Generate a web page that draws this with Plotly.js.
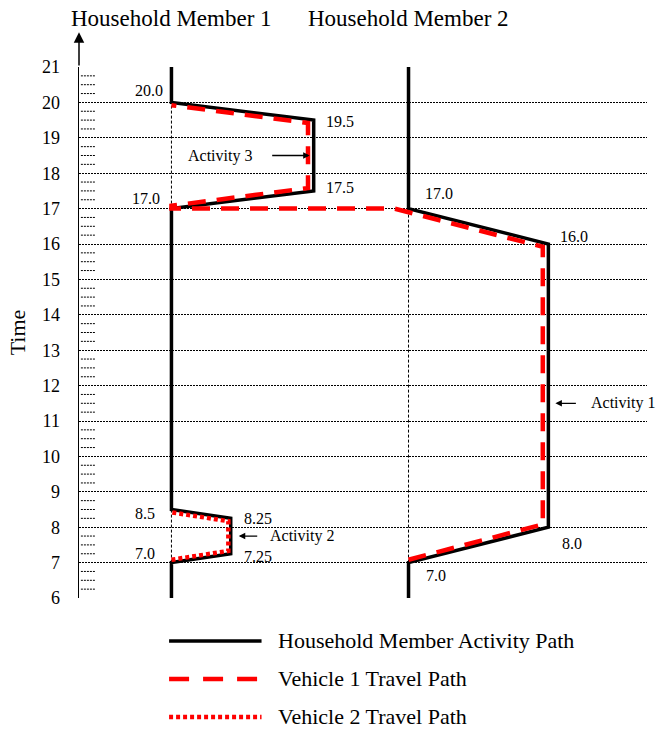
<!DOCTYPE html>
<html>
<head>
<meta charset="utf-8">
<script src="https://cdn.plot.ly/plotly-3.0.1.min.js"></script>
<style>html,body{margin:0;padding:0;background:#fff;}#chart{width:657px;height:734px;}</style>
</head>
<body>
<div id="chart"></div>
<script>
// ---------------- DATA ----------------
const memberNames = ["Household Member 1", "Household Member 2"];
const memberLanes = [1, 2];
const timeTicks = [6, 7, 8, 9, 10, 11, 12, 13, 14, 15, 16, 17, 18, 19, 20, 21];
const activityNames = ["Activity 1", "Activity 2", "Activity 3"];
const activityMember = [2, 1, 1];          // lane of the member doing it
const activityDepart = [7.0, 7.0, 17.0];
const activityStart  = [8.0, 7.25, 17.5];
const activityEnd    = [16.0, 8.25, 19.5];
const activityReturn = [17.0, 8.5, 20.0];
const vehicleNames = ["Vehicle 1 Travel Path", "Vehicle 2 Travel Path"];
const vehicleActivities = [[0, 2], [1]];
const legendNames = ["Household Member Activity Path", "Vehicle 1 Travel Path", "Vehicle 2 Travel Path"];

// ---------------- STYLE / LAYOUT CONSTANTS ----------------
const FONT = "Liberation Serif, Times New Roman, serif";
const X_RANGE = [0.61, 3.006];
const ACT_REACH = [0.59, 0.25, 0.6];        // horizontal extent of each activity box
const ACT_ARROW_T = [11.5, 7.75, 18.5];     // where the activity pointer sits
const INSET_X = 0.04;                       // vehicle path inset (fraction of reach)
const INSET_T = 0.08;                       // vehicle path inset in time
const RED = "#ff0000";

const tMin = timeTicks[0], tMax = timeTicks[timeTicks.length - 1];
const traces = [];

// minor quarter-hour dotted ticks near the axis
(function () {
  const xs = [], ys = [];
  for (let i = 0; i < timeTicks.length - 1; i++) {
    for (let q = 1; q < 4; q++) {
      const t = timeTicks[i] + q / 4;
      xs.push(X_RANGE[0] + 0.008, X_RANGE[0] + 0.068, null);
      ys.push(t, t, null);
    }
  }
  traces.push({x: xs, y: ys, mode: "lines", showlegend: false, hoverinfo: "skip",
    line: {color: "#000", width: 1, dash: "2px,1px"}});
})();

// thin dashed lines while the member is away
activityNames.forEach((n, i) => {
  traces.push({x: [activityMember[i], activityMember[i]], y: [activityDepart[i], activityReturn[i]],
    mode: "lines", showlegend: false, hoverinfo: "skip",
    line: {color: "#000", width: 1, dash: "3px,2px"}});
});

// household member activity paths
memberLanes.forEach((lane, m) => {
  const acts = activityNames.map((n, i) => i).filter(i => activityMember[i] === lane)
    .sort((a, b) => activityDepart[a] - activityDepart[b]);
  const xs = [lane], ys = [tMin];
  acts.forEach(i => {
    xs.push(lane, lane + ACT_REACH[i], lane + ACT_REACH[i], lane);
    ys.push(activityDepart[i], activityStart[i], activityEnd[i], activityReturn[i]);
  });
  xs.push(lane); ys.push(tMax);
  traces.push({x: xs, y: ys, mode: "lines", name: legendNames[0], showlegend: false,
    line: {color: "#000", width: 3.5}});
});

// vehicle travel paths
vehicleActivities.forEach((acts, v) => {
  const xs = [], ys = [];
  acts.forEach((i, k) => {
    const lane = activityMember[i];
    if (k > 0) {
      const p = acts[k - 1];
      if (activityMember[p] !== lane) {
        xs.push(activityMember[p] - 0.06, lane); ys.push(activityReturn[p], activityDepart[i]);
      }
    }
    const cx = lane + ACT_REACH[i] * (1 - INSET_X);
    xs.push(lane, cx, cx, lane);
    ys.push(activityDepart[i] + INSET_T, activityStart[i] + INSET_T,
            activityEnd[i] - INSET_T, activityReturn[i] - INSET_T);
  });
  traces.push({x: xs, y: ys, mode: "lines", name: vehicleNames[v], showlegend: false,
    line: v === 0 ? {color: RED, width: 4.5, dash: "18px,11px"} : {color: RED, width: 4.5, dash: "4px,3px"}});
});

// legend (drawn on its own small axis below the chart)
const legendStyles = [
  {color: "#000", width: 3.5},
  {color: RED, width: 4.5, dash: "20px,14px"},
  {color: RED, width: 4.5, dash: "4px,3px"}
];
legendNames.forEach((n, i) => {
  const row = legendNames.length - i;
  traces.push({x: [0.99, 1.38], y: [row, row], xaxis: "x", yaxis: "y2", mode: "lines",
    showlegend: false, hoverinfo: "skip", line: legendStyles[i]});
});

// ---------------- ANNOTATIONS ----------------
const ann = [];
const fmt = t => (Math.round(t * 2) === t * 2 ? t.toFixed(1) : t.toFixed(2));
const lab = (x, y, text, xanchor, xshift, yshift) => ann.push({
  x, y, xref: "x", yref: "y", text, showarrow: false, xanchor, yanchor: "middle",
  xshift, yshift, font: {family: FONT, size: 16, color: "#000"}});

// [depart, start, end, return] label placement per activity
const labelPlace = [
  [["left", 15, -13], ["left", 12, -16], ["left", 10, 8], ["left", 14, 15]],
  [["right", -14, 9], ["left", 11, -3], ["left", 11, 0], ["right", -14, -3.5]],
  [["right", -9, 10], ["left", 10, 3], ["left", 10, -1], ["right", -6, 12]]
];
activityNames.forEach((n, i) => {
  const lane = activityMember[i], cx = lane + ACT_REACH[i];
  const pts = [[lane, activityDepart[i]], [cx, activityStart[i]], [cx, activityEnd[i]], [lane, activityReturn[i]]];
  pts.forEach((p, k) => {
    const pl = labelPlace[i][k];
    lab(p[0], p[1], fmt(p[1]), pl[0], pl[1], pl[2]);
  });
});

// activity pointers
const arrowPlace = [
  {ax: 29, standoff: 7, textAnchor: "left", textShift: 41},
  {ax: 28, standoff: 8, textAnchor: "left", textShift: 37},
  {ax: -43, standoff: 4, textAnchor: "right", textShift: -60}
];
activityNames.forEach((n, i) => {
  const cx = activityMember[i] + ACT_REACH[i], ap = arrowPlace[i];
  ann.push({x: cx, y: ACT_ARROW_T[i], xref: "x", yref: "y", text: "", showarrow: true,
    ax: ap.ax, ay: 0, arrowhead: 2, arrowsize: 1, arrowwidth: 1.3, arrowcolor: "#000",
    standoff: ap.standoff});
  ann.push({x: cx, y: ACT_ARROW_T[i], xref: "x", yref: "y", text: n, showarrow: false,
    xanchor: ap.textAnchor, yanchor: "middle", xshift: ap.textShift, yshift: 0,
    font: {family: FONT, size: 16, color: "#000"}});
});

// member headers
memberNames.forEach((n, m) => ann.push({x: memberLanes[m], y: 1, xref: "x", yref: "paper",
  text: n, showarrow: false, xanchor: "center", yanchor: "middle", yshift: 49,
  font: {family: FONT, size: 23, color: "#000"}}));

// axis arrow
ann.push({x: X_RANGE[0], y: tMax + 0.98, xref: "x", yref: "y", ax: X_RANGE[0], ay: tMax,
  axref: "x", ayref: "y", text: "", showarrow: true, arrowhead: 2, arrowsize: 1.4,
  arrowwidth: 1.5, arrowcolor: "#000"});

// legend labels
legendNames.forEach((n, i) => ann.push({x: 1.44, y: legendNames.length - i, xref: "x", yref: "y2",
  text: n, showarrow: false, xanchor: "left", yanchor: "middle",
  font: {family: FONT, size: 22, color: "#000"}}));

// ---------------- LAYOUT ----------------
const layout = {
  width: 657, height: 734,
  margin: {l: 79, r: 10, t: 67, b: 8},
  paper_bgcolor: "#fff", plot_bgcolor: "#fff",
  showlegend: false,
  font: {family: FONT, color: "#000"},
  xaxis: {range: X_RANGE, showgrid: false, zeroline: false, showticklabels: false,
    ticks: "", showline: false, fixedrange: true},
  yaxis: {range: [tMin, tMax], domain: [0.19423, 1], tickvals: timeTicks, ticktext: timeTicks.map(String),
    showgrid: true, gridcolor: "#000", gridwidth: 1, griddash: "2px,1px", zeroline: false,
    showline: true, linecolor: "#000", linewidth: 1.5, ticks: "", ticklabelstandoff: 14,
    tickfont: {family: FONT, size: 18, color: "#000"},
    title: {text: "Time", font: {family: FONT, size: 22, color: "#000"}, standoff: 10},
    fixedrange: true},
  yaxis2: {domain: [0, 0.19], range: [0.763, 4.058], anchor: "x", showgrid: false,
    zeroline: false, showticklabels: false, showline: false, ticks: "", fixedrange: true},
  annotations: ann
};

Plotly.newPlot("chart", traces, layout, {staticPlot: true, displayModeBar: false});
</script>
</body>
</html>
